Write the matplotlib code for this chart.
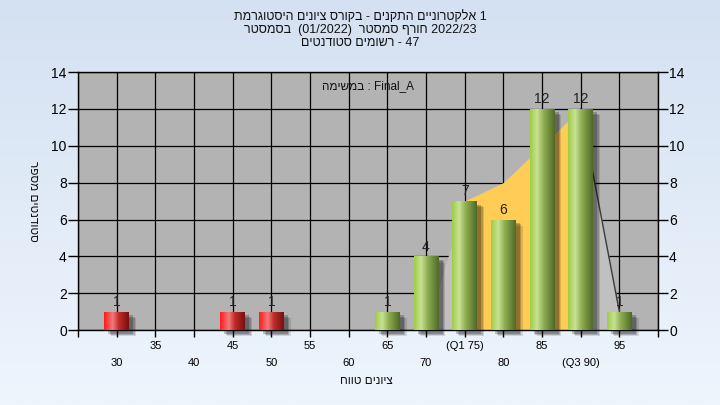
import matplotlib.pyplot as plt
import matplotlib.patheffects as pe
import numpy as np
from matplotlib.colors import LinearSegmentedColormap

plt.rcParams['font.family'] = ['Liberation Sans', 'DejaVu Sans']

# data
grades = [30, 45, 50, 65, 70, 75, 80, 85, 90, 95]
counts = [1, 1, 1, 1, 4, 7, 6, 12, 12, 1]
pass_grade = 55
curve_x = [70, 75, 80, 90, 95]
curve_y = [0, 7, 8, 12, 1]
q1, q3 = 75, 90
tick_pos = list(range(25, 101, 5))
tick_txt = ['', '30', '35', '40', '45', '50', '55', '60', '65', '70',
            '(Q1 75)', '80', '85', '(Q3 90)', '95', '']

title_lines = ['היסטוגרמת ציונים בקורס - התקנים אלקטרוניים 1',
               'בסמסטר  (01/2022)  סמסטר חורף 2022/23',
               'סטודנטים רשומים - 47']
task_txt = 'במשימה : Final_A'
x_title = 'טווח ציונים'
y_title = 'מספר סטודנטים'


def heb(s):
    # no bidi in matplotlib: flip letters of hebrew words, keep word order
    return ' '.join(w[::-1] if any('\u0590' <= c <= '\u05ea' for c in w) else w
                    for w in s.split(' '))


fig = plt.figure(figsize=(7.2, 4.05), dpi=100)

# background gradient
bg = fig.add_axes([0, 0, 1, 1], zorder=-10)
bg_cmap = LinearSegmentedColormap.from_list('bg', ['#d4e1f2', '#eef5fd'])
bg.imshow(np.linspace(0, 1, 256).reshape(-1, 1), cmap=bg_cmap, aspect='auto',
          extent=[0, 1, 0, 1])
bg.axis('off')

ax = fig.add_axes([0.1083, 0.185, 0.8056, 0.637])
ax.set_facecolor('#b3b3b3')
ax.grid(True, color='black', linewidth=0.9, zorder=1)
ax.set_axisbelow(True)

# area under the curve, orange between the quartiles
cx = np.array(curve_x)
cy = np.array(curve_y)
ax.fill_between(cx, cy, 0, color='#c0c0c0', linewidth=0, zorder=2)
ax.fill_between(cx, cy, 0, where=(cx >= q1) & (cx <= q3), color='#ffcc55',
                linewidth=0, zorder=2.5)
ax.plot(cx[-2:], cy[-2:], color='#3a3a3a', linewidth=1, zorder=3)

green = LinearSegmentedColormap.from_list(
    'g', [(0, '#9fcb45'), (0.28, '#c9e394'), (0.55, '#8fae52'), (1, '#506a28')])
red = LinearSegmentedColormap.from_list(
    'r', [(0, '#ff1c1c'), (0.35, '#f27a7a'), (0.6, '#c02a2a'), (1, '#781010')])

colors = ['#e03030' if g < pass_grade else '#90b048' for g in grades]
shadow = [pe.SimplePatchShadow(offset=(5, -4.5), shadow_rgbFace='black', alpha=0.12),
          pe.SimplePatchShadow(offset=(4, -3.5), shadow_rgbFace='black', alpha=0.18),
          pe.SimplePatchShadow(offset=(3, -2.5), shadow_rgbFace='black', alpha=0.22),
          pe.Normal()]
bars = ax.bar(grades, counts, width=3.2, color=colors, linewidth=0, zorder=4,
              path_effects=shadow, clip_on=False)

grad = np.linspace(0, 1, 64).reshape(1, -1)
for b, g in zip(bars, grades):
    x0, w, h = b.get_x(), b.get_width(), b.get_height()
    im = ax.imshow(grad, cmap=red if g < pass_grade else green, aspect='auto',
                   extent=[x0, x0 + w, 0, h], zorder=4.5)
    im.set_clip_path(b)

ax.bar_label(bars, padding=2, fontsize=10, color='#222222')

ax.set_xlim(25, 100)
ax.set_ylim(0, 14)
ax.set_yticks(range(0, 15, 2))
ax.set_xticks(tick_pos)
ax.set_xticklabels(tick_txt, fontsize=8)
for t, p in zip(ax.xaxis.get_major_ticks(), tick_pos):
    t.set_pad(3 if p % 10 == 5 else 15)
ax.tick_params(axis='x', direction='out', length=5, width=1)
ax.tick_params(axis='y', direction='out', length=7, width=1, labelsize=10,
               left=True, right=True, labelleft=True, labelright=True, pad=1)
for s in ax.spines.values():
    s.set_color('black')
    s.set_linewidth(1)

ax.text(0.5, 0.945, heb(task_txt), transform=ax.transAxes, ha='center',
        va='center', fontsize=8.5, color='#111111', zorder=6)

for i, line in enumerate(title_lines):
    fig.text(0.5, 1 - (17 + 13 * i) / 405, heb(line), ha='center', va='center',
             fontsize=9, color='#111111')

fig.text(366 / 720, 1 - 381 / 405, heb(x_title), ha='center', va='center',
         fontsize=8.5, color='#111111')
fig.text(33 / 720, 1 - 201 / 405, heb(y_title), ha='center', va='center',
         fontsize=8.5, rotation=270, color='#111111')

fig.savefig('out.png', dpi=100)
